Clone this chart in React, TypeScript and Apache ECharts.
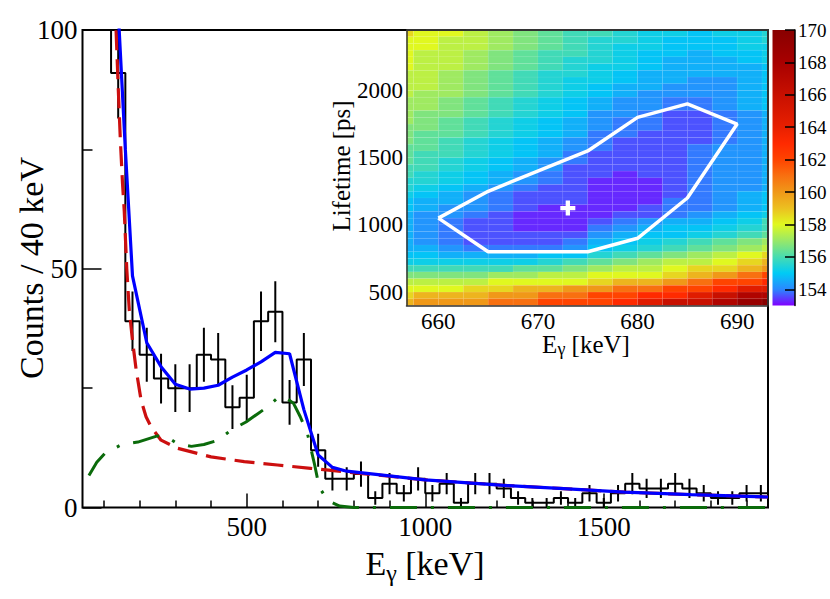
import React, { useEffect, useRef } from "react";
import * as echarts from "echarts";

const FONT = '"Liberation Serif", "Times New Roman", serif';

// ---------------- main spectrum (40 keV bins starting at 40 keV) ----------------
const BIN_START = 40;
const BIN_WIDTH = 40;
const COUNTS = [
  160, 125, 91, 39, 32, 27, 25, 25, 32, 31,
  21, 23, 39, 41, 22, 31, 12, 6, 6, 7,
  2, 5, 3, 6, 3, 5, 1, 5, 5, 4,
  2, 1, 1, 2, 1, 3, 1, 3, 5, 4,
  4, 5, 4, 3, 2, 2, 3, 3,
];

// red dashed background
const BG_E = [130, 134, 140, 146, 152, 157, 164, 171, 180, 190, 204, 218, 232, 260, 306, 400, 493, 586, 679, 772, 1000, 1230, 1375, 1558, 1745, 1960];
const BG_V = [106, 100, 88, 77, 68, 62, 50, 41.4, 35, 29, 22.5, 19, 16.9, 14.1, 12.4, 10.6, 9.6, 8.9, 8.2, 7.5, 5.8, 4.6, 4.0, 3.2, 2.7, 2.2];

// green dash-dot response
const RESP_E = [58, 80, 102, 150, 195, 250, 280, 305, 345, 380, 420, 456, 498, 530, 559, 590, 610, 631, 650, 670, 690, 703, 726, 760, 800, 1960];
const RESP_V = [6.7, 9.5, 11.3, 13.2, 13.7, 15.0, 14.6, 13.4, 12.8, 13.2, 14.1, 16.2, 17.9, 19.6, 21.1, 23.2, 23.0, 21.8, 19.0, 15.5, 9.0, 4.3, 1.5, 0.3, 0, 0];

// blue total fit
const FIT_E = [140, 160, 180, 220, 260, 300, 340, 380, 420, 460, 500, 540, 580, 620, 660, 700, 740, 780, 1000, 1230, 1375, 1558, 1745, 1960];
const FIT_V = [104, 75, 48.5, 34.5, 29.5, 25.8, 24.8, 25.0, 25.6, 27.3, 28.8, 30.5, 32.5, 32.2, 20.5, 11.0, 8.4, 7.6, 5.8, 4.6, 4.0, 3.2, 2.7, 2.2];

const MAIN_X_MIN = 40;
const MAIN_X_MAX = 1960;
const MAIN_Y_MAX = 100;
const MAIN_X_MAJOR = [500, 1000, 1500];
const MAIN_X_MINOR = [100, 200, 300, 400, 600, 700, 800, 900, 1100, 1200, 1300, 1400, 1600, 1700, 1800, 1900];

// ---------------- inset: chi2 map ----------------
const HM_X0 = 655;
const HM_COL_W = 2.5;
const HM_Y_TOP = 2450;
const HM_ROW_H = 50;
const HM_CODES = "0123456789abcdefghijklmno";
const HM_LEVELS = [153.3, 153.6, 153.9, 154.2, 154.6, 154.9, 155.2, 155.5, 155.9, 156.3, 156.7, 157.1, 157.5, 158.0, 158.6, 159.3, 160.0, 161.0, 162.0, 163.0, 164.5, 166.0, 167.5, 169.0, 170.0];
// rows from top (2400-2450 ps) to bottom (400-450 ps); columns 655..695 keV
const HM_ROWS = [
  "eddcba9887665667",
  "ddccba9877655567",
  "ddccba9876655566",
  "dccba98876554556",
  "dccba98776544456",
  "dccba98766544445",
  "ccba987765444445",
  "ccba987665443345",
  "ccba987654433345",
  "cbba987654333345",
  "bba9876543322345",
  "bba9876543322345",
  "baa9876533211234",
  "ba98765432211234",
  "aa98765432211234",
  "a998765422111234",
  "a987654321111234",
  "9987654321112334",
  "9887654211112334",
  "9876543211112334",
  "8876543111112334",
  "8765432110112334",
  "7765432100012334",
  "7654321100012334",
  "6543211100012345",
  "5443211100022345",
  "5433210000122345",
  "4332100001123456",
  "4321100012344568",
  "4321100023455678",
  "4321111134556789",
  "43211112456789ab",
  "4432222356789abc",
  "55444455789abcde",
  "666666789abccdef",
  "8888899abccdeefg",
  "aaaabbccdddefghi",
  "ccccddddeffghiij",
  "dddeeffgghhiijkk",
  "efffgghhiijjklmm",
  "fggghhiiijkllmno",
];
const CONTOUR_E = [660, 665, 675, 680, 685, 690, 685, 680, 675, 665, 660];
const CONTOUR_T = [1050, 1250, 1550, 1800, 1900, 1750, 1200, 900, 800, 800, 1050];
const BEST_FIT = [673, 1125];

const INSET_X_MIN = 656.8;
const INSET_X_MAX = 693.1;
const INSET_Y_MIN = 400;
const INSET_Y_MAX = 2450;
const INSET_X_TICKS = [660, 670, 680, 690];
const INSET_Y_TICKS = [500, 1000, 1500, 2000];

const CBAR_MIN = 153;
const CBAR_MAX = 170;
const CBAR_TICKS = [154, 156, 158, 160, 162, 164, 166, 168, 170];
const PALETTE = ["#8000ff", "#2a88ff", "#00cbf5", "#48dcb0", "#98e868", "#e0f820", "#ecc020", "#f09818", "#f87010", "#ff4400", "#ff2a00", "#e82000", "#d81800", "#c81000", "#b80800", "#a80000", "#980000", "#880000"];

// layout (pixels)
const MAIN = { left: 82.5, top: 30, width: 685.5, height: 477.5 };
const INSET = { left: 406.5, top: 30, width: 361.5, height: 275.5 };
const CBAR = { left: 772.5, top: 30, width: 22.5, height: 275.5 };

const zip = (a: number[], b: number[]) => a.map((v, i) => [v, b[i]]);
const plain = (v: number) => String(v);

export default function App() {
  const ref = useRef<HTMLDivElement>(null);
  useEffect(() => {
    if (!ref.current) return;
    const chart = echarts.init(ref.current, null, { renderer: "svg" });

    const histPts: number[][] = [];
    COUNTS.forEach((c, i) => {
      const e0 = BIN_START + i * BIN_WIDTH;
      histPts.push([e0, c], [e0 + BIN_WIDTH, c]);
    });
    const errData = COUNTS.map((c, i) => [BIN_START + (i + 0.5) * BIN_WIDTH, c, Math.sqrt(c)]);

    const heatData: number[][] = [];
    HM_ROWS.forEach((row, r) => {
      for (let c = 0; c < row.length; c++) {
        heatData.push([HM_X0 + c * HM_COL_W, HM_Y_TOP - (r + 1) * HM_ROW_H, HM_LEVELS[HM_CODES.indexOf(row[c])]]);
      }
    });

    const tickStyle = { color: "#000", width: 1.5 };
    const labelBase = { color: "#000", fontFamily: FONT, formatter: plain };

    const option: any = {
      animation: false,
      grid: [
        { ...MAIN, containLabel: false },
        { ...INSET, containLabel: false },
        { ...CBAR, containLabel: false },
      ],
      xAxis: [
        {
          gridIndex: 0, type: "value", min: MAIN_X_MIN, max: MAIN_X_MAX, position: "bottom",
          axisLine: { show: false },
          axisTick: { show: true, inside: true, length: 14, customValues: MAIN_X_MAJOR, lineStyle: tickStyle },
          axisLabel: { ...labelBase, fontSize: 27, margin: 6, customValues: MAIN_X_MAJOR },
          splitLine: { show: false },
        },
        {
          gridIndex: 0, type: "value", min: MAIN_X_MIN, max: MAIN_X_MAX, position: "bottom",
          axisLine: { show: false },
          axisTick: { show: true, inside: true, length: 7, customValues: MAIN_X_MINOR, lineStyle: tickStyle },
          axisLabel: { show: false },
          splitLine: { show: false },
        },
        {
          gridIndex: 1, type: "value", min: INSET_X_MIN, max: INSET_X_MAX, position: "bottom", z: 10,
          axisLine: { show: true, onZero: false, lineStyle: { color: "#333", width: 1.5 } },
          axisTick: { show: false },
          axisLabel: { ...labelBase, fontSize: 23, margin: 4, customValues: INSET_X_TICKS },
          splitLine: { show: false },
        },
        {
          gridIndex: 2, type: "value", min: 0, max: 1, show: false,
        },
      ],
      yAxis: [
        {
          gridIndex: 0, type: "value", min: 0, max: MAIN_Y_MAX, interval: 50,
          axisLine: { show: false },
          axisTick: { show: true, inside: true, length: 19, lineStyle: tickStyle },
          minorTick: { show: true, splitNumber: 2, length: 10, lineStyle: tickStyle },
          axisLabel: { ...labelBase, fontSize: 27, margin: 5 },
          splitLine: { show: false },
          minorSplitLine: { show: false },
        },
        {
          gridIndex: 1, type: "value", min: INSET_Y_MIN, max: INSET_Y_MAX, z: 10,
          axisLine: { show: true, onZero: false, lineStyle: { color: "#333", width: 1.5 } },
          axisTick: { show: false },
          axisLabel: { ...labelBase, fontSize: 23, margin: 3.5, customValues: INSET_Y_TICKS },
          splitLine: { show: false },
        },
        {
          gridIndex: 2, type: "value", min: CBAR_MIN, max: CBAR_MAX, position: "right", z: 10,
          axisLine: { show: true, onZero: false, lineStyle: { color: "#000", width: 1.5 } },
          axisTick: { show: true, inside: true, length: 10, customValues: CBAR_TICKS, lineStyle: tickStyle },
          axisLabel: { ...labelBase, fontSize: 19, margin: 3, customValues: CBAR_TICKS },
          splitLine: { show: false },
        },
      ],
      visualMap: [
        {
          type: "continuous", show: false, min: CBAR_MIN, max: CBAR_MAX, dimension: 2, seriesIndex: 5,
          inRange: { color: PALETTE },
        },
      ],
      series: [
        {
          type: "line", xAxisIndex: 0, yAxisIndex: 0, data: histPts, symbol: "none", clip: true, z: 2,
          lineStyle: { color: "#000", width: 2 },
        },
        {
          type: "custom", xAxisIndex: 0, yAxisIndex: 0, data: errData, z: 2, clip: true,
          encode: { x: 0, y: 1 },
          renderItem: (params: any, api: any) => {
            const x = api.value(0), c = api.value(1), e = api.value(2);
            const lo = Math.max(0, c - e), hi = Math.min(MAIN_Y_MAX, c + e);
            if (!(hi > lo)) return null;
            const p1 = api.coord([x, lo]);
            const p2 = api.coord([x, hi]);
            return { type: "line", shape: { x1: p1[0], y1: p1[1], x2: p2[0], y2: p2[1] }, style: { stroke: "#000", lineWidth: 2 } };
          },
        },
        {
          type: "line", xAxisIndex: 0, yAxisIndex: 0, data: zip(BG_E, BG_V), symbol: "none", clip: true, z: 3,
          lineStyle: { color: "#cc0f0f", width: 3.2, type: [20, 9] },
        },
        {
          type: "line", xAxisIndex: 0, yAxisIndex: 0, data: zip(RESP_E, RESP_V), symbol: "none", clip: false, z: 3,
          lineStyle: { color: "#0b6b0b", width: 3, type: [27, 14, 3, 14] },
        },
        {
          type: "line", xAxisIndex: 0, yAxisIndex: 0, data: zip(FIT_E, FIT_V), symbol: "none", clip: true, z: 4,
          lineStyle: { color: "#0000ff", width: 3.2 },
        },
        {
          type: "custom", xAxisIndex: 2, yAxisIndex: 1, data: heatData, z: 5,
          encode: { x: 0, y: 1 },
          renderItem: (params: any, api: any) => {
            const x0 = api.value(0), y0 = api.value(1);
            const p1 = api.coord([x0, y0 + HM_ROW_H]);
            const p2 = api.coord([x0 + HM_COL_W, y0]);
            const cs = params.coordSys;
            const rect = echarts.graphic.clipRectByRect(
              { x: p1[0], y: p1[1], width: p2[0] - p1[0], height: p2[1] - p1[1] },
              { x: cs.x, y: cs.y, width: cs.width, height: cs.height }
            );
            if (!rect) return null;
            return { type: "rect", shape: rect, style: { fill: api.visual("color"), stroke: "rgba(255,255,255,0.07)", lineWidth: 0.6 } };
          },
        },
        {
          type: "line", xAxisIndex: 2, yAxisIndex: 1, data: zip(CONTOUR_E, CONTOUR_T), symbol: "none", z: 6,
          lineStyle: { color: "#ffffff", width: 3.5 },
        },
        {
          type: "scatter", xAxisIndex: 2, yAxisIndex: 1, data: [BEST_FIT], z: 7,
          symbol: "path://M2.5,0H4.5V2.5H7V4.5H4.5V7H2.5V4.5H0V2.5H2.5Z", symbolSize: 15,
          itemStyle: { color: "#ffffff", opacity: 1 },
        },
      ],
      graphic: [
        {
          type: "rect", z: 1, silent: true,
          shape: { x: MAIN.left, y: MAIN.top, width: MAIN.width, height: MAIN.height },
          style: { fill: "none", stroke: "#000", lineWidth: 2 },
        },
        {
          type: "polyline", z: 20, silent: true,
          shape: { points: [[INSET.left, MAIN.top], [MAIN.left + MAIN.width, MAIN.top], [MAIN.left + MAIN.width, INSET.top + INSET.height]] },
          style: { fill: "none", stroke: "#333", lineWidth: 2 },
        },
        {
          type: "rect", z: 5, silent: true,
          shape: { x: CBAR.left, y: CBAR.top, width: CBAR.width, height: CBAR.height },
          style: {
            fill: {
              type: "linear", x: 0, y: 1, x2: 0, y2: 0,
              colorStops: PALETTE.map((c, i) => ({ offset: i / (PALETTE.length - 1), color: c })),
            },
          },
        },
        {
          type: "text", z: 20, x: 31, y: 268, rotation: Math.PI / 2,
          style: {
            text: "Counts / 40 keV", font: `34px ${FONT}`, fill: "#000",
            align: "center", verticalAlign: "middle", textAlign: "center", textVerticalAlign: "middle",
          },
        },
        {
          type: "text", z: 20, x: 425, y: 563,
          style: {
            text: "{a|E}{b|γ}{a| [keV]}",
            rich: {
              a: { fontSize: 34, fontFamily: FONT, fill: "#000", color: "#000", lineHeight: 44, verticalAlign: "middle" },
              b: { fontSize: 24, fontFamily: FONT, fill: "#000", color: "#000", lineHeight: 26, verticalAlign: "bottom" },
            },
            align: "center", verticalAlign: "middle", textAlign: "center", textVerticalAlign: "middle",
          },
        },
        {
          type: "text", z: 20, x: 586, y: 344,
          style: {
            text: "{a|E}{b|γ}{a| [keV]}",
            rich: {
              a: { fontSize: 25, fontFamily: FONT, fill: "#000", color: "#000", lineHeight: 28, verticalAlign: "middle" },
              b: { fontSize: 18, fontFamily: FONT, fill: "#000", color: "#000", lineHeight: 18, verticalAlign: "bottom" },
            },
            align: "center", verticalAlign: "middle", textAlign: "center", textVerticalAlign: "middle",
          },
        },
        {
          type: "text", z: 20, x: 341, y: 166, rotation: Math.PI / 2,
          style: {
            text: "Lifetime [ps]", font: `25px ${FONT}`, fill: "#000",
            align: "center", verticalAlign: "middle", textAlign: "center", textVerticalAlign: "middle",
          },
        },
      ],
    };

    chart.setOption(option);
    return () => chart.dispose();
  }, []);

  return (
    <div
      ref={ref}
      style={{ position: "absolute", left: 0, top: 0, width: 830, height: 599, background: "#fff" }}
    />
  );
}
